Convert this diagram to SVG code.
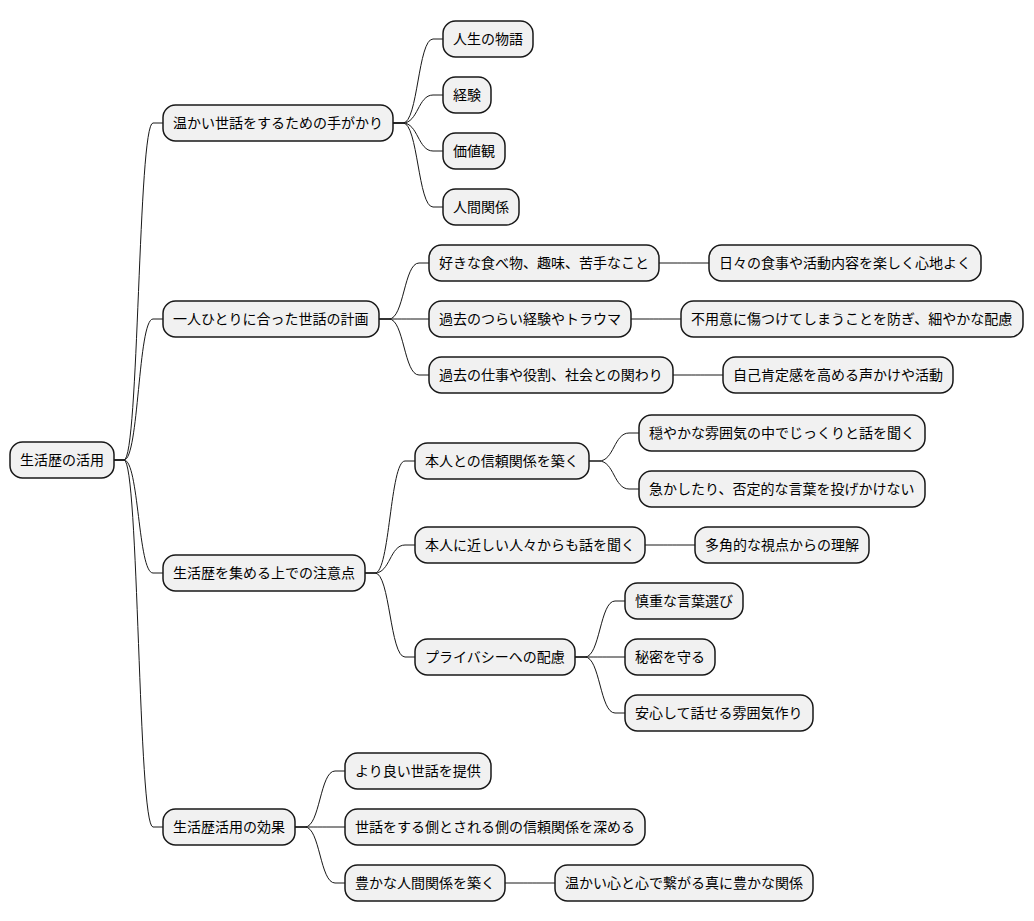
<svg xmlns="http://www.w3.org/2000/svg" width="1034" height="921" viewBox="0 0 1034 921">
<style>
.n rect{fill:#F1F1F1;stroke:#181818;stroke-width:1.5}
.n text{font-family:"Noto Sans CJK JP","Noto Sans CJK SC",sans-serif;font-size:14px;fill:#000000}
.c path{fill:none;stroke:#181818;stroke-width:1}
</style>
<rect width="1034" height="921" fill="#FFFFFF"/>
<g class="c" id="connectors">
<path d="M114,460 L124,460 C139,460 138,123 153,123 L163,123"/>
<path d="M114,460 L124,460 C139,460 138,319 153,319 L163,319"/>
<path d="M114,460 L124,460 C139,460 138,573 153,573 L163,573"/>
<path d="M114,460 L124,460 C139,460 138,827 153,827 L163,827"/>
<path d="M393,123 L403,123 C418,123 418,39 433,39 L443,39"/>
<path d="M393,123 L403,123 C418,123 418,95 433,95 L443,95"/>
<path d="M393,123 L403,123 C418,123 418,151 433,151 L443,151"/>
<path d="M393,123 L403,123 C418,123 418,207 433,207 L443,207"/>
<path d="M379,319 L389,319 C404,319 404,263 419,263 L429,263"/>
<path d="M379,319 L389,319 C404,319 404,319 419,319 L429,319"/>
<path d="M379,319 L389,319 C404,319 404,375 419,375 L429,375"/>
<path d="M659,263 L669,263 C684,263 684,263 699,263 L709,263"/>
<path d="M631,319 L641,319 C656,319 656,319 671,319 L681,319"/>
<path d="M673,375 L683,375 C698,375 698,375 713,375 L723,375"/>
<path d="M365,573 L375,573 C390,573 390,461 405,461 L415,461"/>
<path d="M365,573 L375,573 C390,573 390,545 405,545 L415,545"/>
<path d="M365,573 L375,573 C390,573 390,657 405,657 L415,657"/>
<path d="M589,461 L599,461 C614,461 614,433 629,433 L639,433"/>
<path d="M589,461 L599,461 C614,461 614,489 629,489 L639,489"/>
<path d="M645,545 L655,545 C670,545 670,545 685,545 L695,545"/>
<path d="M575,657 L585,657 C600,657 600,601 615,601 L625,601"/>
<path d="M575,657 L585,657 C600,657 600,657 615,657 L625,657"/>
<path d="M575,657 L585,657 C600,657 600,713 615,713 L625,713"/>
<path d="M295,827 L305,827 C320,827 320,771 335,771 L345,771"/>
<path d="M295,827 L305,827 C320,827 320,827 335,827 L345,827"/>
<path d="M295,827 L305,827 C320,827 320,883 335,883 L345,883"/>
<path d="M505,883 L515,883 C530,883 530,883 545,883 L555,883"/>
</g>
<g class="n" id="root"><rect x="10" y="442" width="104" height="36" rx="12.5"/><text x="20" y="465">生活歴の活用</text></g>
<g class="n" id="n1"><rect x="163" y="105" width="230" height="36" rx="12.5"/><text x="173" y="128">温かい世話をするための手がかり</text></g>
<g class="n" id="n1a"><rect x="443" y="21" width="90" height="36" rx="12.5"/><text x="453" y="44">人生の物語</text></g>
<g class="n" id="n1b"><rect x="443" y="77" width="48" height="36" rx="12.5"/><text x="453" y="100">経験</text></g>
<g class="n" id="n1c"><rect x="443" y="133" width="62" height="36" rx="12.5"/><text x="453" y="156">価値観</text></g>
<g class="n" id="n1d"><rect x="443" y="189" width="76" height="36" rx="12.5"/><text x="453" y="212">人間関係</text></g>
<g class="n" id="n2"><rect x="163" y="301" width="216" height="36" rx="12.5"/><text x="173" y="324">一人ひとりに合った世話の計画</text></g>
<g class="n" id="n2a"><rect x="429" y="245" width="230" height="36" rx="12.5"/><text x="439" y="268">好きな食べ物、趣味、苦手なこと</text></g>
<g class="n" id="n2a1"><rect x="709" y="245" width="272" height="36" rx="12.5"/><text x="719" y="268">日々の食事や活動内容を楽しく心地よく</text></g>
<g class="n" id="n2b"><rect x="429" y="301" width="202" height="36" rx="12.5"/><text x="439" y="324">過去のつらい経験やトラウマ</text></g>
<g class="n" id="n2b1"><rect x="681" y="301" width="342" height="36" rx="12.5"/><text x="691" y="324">不用意に傷つけてしまうことを防ぎ、細やかな配慮</text></g>
<g class="n" id="n2c"><rect x="429" y="357" width="244" height="36" rx="12.5"/><text x="439" y="380">過去の仕事や役割、社会との関わり</text></g>
<g class="n" id="n2c1"><rect x="723" y="357" width="230" height="36" rx="12.5"/><text x="733" y="380">自己肯定感を高める声かけや活動</text></g>
<g class="n" id="n3"><rect x="163" y="555" width="202" height="36" rx="12.5"/><text x="173" y="578">生活歴を集める上での注意点</text></g>
<g class="n" id="n3a"><rect x="415" y="443" width="174" height="36" rx="12.5"/><text x="425" y="466">本人との信頼関係を築く</text></g>
<g class="n" id="n3a1"><rect x="639" y="415" width="286" height="36" rx="12.5"/><text x="649" y="438">穏やかな雰囲気の中でじっくりと話を聞く</text></g>
<g class="n" id="n3a2"><rect x="639" y="471" width="286" height="36" rx="12.5"/><text x="649" y="494">急かしたり、否定的な言葉を投げかけない</text></g>
<g class="n" id="n3b"><rect x="415" y="527" width="230" height="36" rx="12.5"/><text x="425" y="550">本人に近しい人々からも話を聞く</text></g>
<g class="n" id="n3b1"><rect x="695" y="527" width="174" height="36" rx="12.5"/><text x="705" y="550">多角的な視点からの理解</text></g>
<g class="n" id="n3c"><rect x="415" y="639" width="160" height="36" rx="12.5"/><text x="425" y="662">プライバシーへの配慮</text></g>
<g class="n" id="n3c1"><rect x="625" y="583" width="118" height="36" rx="12.5"/><text x="635" y="606">慎重な言葉選び</text></g>
<g class="n" id="n3c2"><rect x="625" y="639" width="90" height="36" rx="12.5"/><text x="635" y="662">秘密を守る</text></g>
<g class="n" id="n3c3"><rect x="625" y="695" width="188" height="36" rx="12.5"/><text x="635" y="718">安心して話せる雰囲気作り</text></g>
<g class="n" id="n4"><rect x="163" y="809" width="132" height="36" rx="12.5"/><text x="173" y="832">生活歴活用の効果</text></g>
<g class="n" id="n4a"><rect x="345" y="753" width="146" height="36" rx="12.5"/><text x="355" y="776">より良い世話を提供</text></g>
<g class="n" id="n4b"><rect x="345" y="809" width="300" height="36" rx="12.5"/><text x="355" y="832">世話をする側とされる側の信頼関係を深める</text></g>
<g class="n" id="n4c"><rect x="345" y="865" width="160" height="36" rx="12.5"/><text x="355" y="888">豊かな人間関係を築く</text></g>
<g class="n" id="n4c1"><rect x="555" y="865" width="258" height="36" rx="12.5"/><text x="565" y="888">温かい心と心で繋がる真に豊かな関係</text></g>
</svg>
